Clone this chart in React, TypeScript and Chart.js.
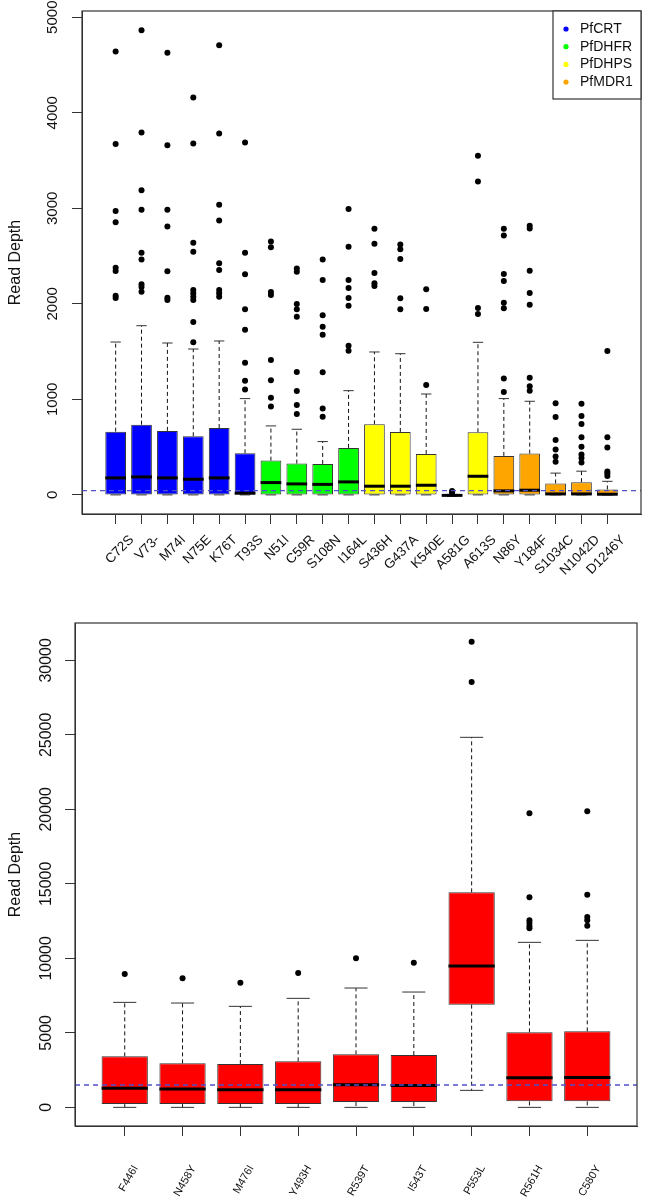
import React, { useEffect, useRef } from 'react';
import { Chart, registerables } from 'chart.js';

Chart.register(...registerables);
Chart.defaults.font.family = "'Liberation Sans', Arial, sans-serif";
Chart.defaults.color = '#111';

// ---------- Top chart data ----------
const topLabels = ['C72S', 'V73-', 'M74I', 'N75E', 'K76T', 'T93S', 'N51I', 'C59R', 'S108N', 'I164L', 'S436H', 'G437A', 'K540E', 'A581G', 'A613S', 'N86Y', 'Y184F', 'S1034C', 'N1042D', 'D1246Y'];
const topGroup = [0, 0, 0, 0, 0, 0, 1, 1, 1, 1, 2, 2, 2, 2, 2, 3, 3, 3, 3, 3];
const geneNames = ['PfCRT', 'PfDHFR', 'PfDHPS', 'PfMDR1'];
const geneColors = ['#0000ff', '#00ff00', '#ffff00', '#ffa500'];
const topQ1 = [0, 0, 0, 0, 0, 0, 5, 5, 5, 5, 0, 0, 0, -15, 0, 5, 5, 0, 0, 0];
const topMedian = [178, 188, 178, 164, 178, 18, 129, 115, 110, 136, 91, 91, 101, -5, 195, 42, 49, 10, 10, 7];
const topQ3 = [662, 735, 670, 614, 700, 436, 359, 328, 324, 492, 739, 659, 429, 5, 656, 408, 432, 120, 133, 57];
const topWhiskerLow = [0, 0, 0, 0, 0, 0, 0, 0, 0, 0, 0, 0, 0, -15, 0, 0, 0, 0, 0, 0];
const topWhiskerHigh = [1600, 1771, 1590, 1527, 1611, 1008, 722, 687, 558, 1091, 1496, 1478, 1056, 5, 1597, 1008, 980, 228, 248, 142];
const topOutliers = [
  [4640, 3672, 2971, 2853, 2378, 2343, 2085, 2060],
  [4864, 3794, 3190, 2984, 2535, 2465, 2204, 2176, 2127],
  [4627, 3661, 2984, 2810, 2340, 2064, 2040],
  [4160, 3678, 2639, 2545, 2144, 2110, 2075, 2040, 1810, 1597],
  [4707, 3783, 3037, 2873, 2424, 2354, 2144, 2110, 2075],
  [3688, 2535, 2309, 1942, 1729, 1384, 1196, 1102],
  [2653, 2591, 2123, 2092, 1412, 1200, 1018, 924],
  [2371, 2336, 1998, 1942, 1865, 1287, 1088, 941, 847],
  [2465, 2249, 1880, 1761, 1677, 1283, 903, 819],
  [2992, 2597, 2249, 2165, 2060, 1980, 1562, 1509],
  [2786, 2629, 2322, 2214, 2186],
  [2622, 2570, 2469, 2057, 1942],
  [2152, 1946, 1151],
  [40, 20],
  [3549, 3281, 1956, 1893],
  [2786, 2716, 2312, 2238, 2012, 1953, 1217, 1077],
  [2817, 2789, 2347, 2113, 1991, 1227, 1137, 1091],
  [959, 816, 575, 474, 401, 348],
  [955, 826, 743, 604, 505, 422, 387, 338],
  [1506, 604, 495, 244, 223, 199],
];
const topYTicks = [0, 1000, 2000, 3000, 4000, 5000];
const topThreshold = 45;

// ---------- Bottom chart data ----------
const botLabels = ['F446I', 'N458Y', 'M476I', 'Y493H', 'R539T', 'I543T', 'P553L', 'R561H', 'C580Y'];
const botQ1 = [221, 221, 221, 221, 358, 358, 6890, 403, 403];
const botMedian = [1275, 1230, 1186, 1186, 1521, 1476, 9485, 1991, 2013];
const botQ3 = [3423, 2953, 2908, 3087, 3557, 3512, 14430, 5034, 5101];
const botWhiskerLow = [0, 0, 0, 0, 0, 0, 1141, 0, 0];
const botWhiskerHigh = [7047, 7002, 6779, 7315, 8009, 7740, 24832, 11074, 11208];
const botOutliers = [
  [8946],
  [8658],
  [8367],
  [9016],
  [10000],
  [9709],
  [31255, 28546],
  [19732, 14094, 12550, 12371, 12170, 12013],
  [19866, 14275, 12774, 12550, 12192],
];
const botYTicks = [0, 5000, 10000, 15000, 20000, 25000, 30000];
const botThreshold = 1500;
const botColor = '#ff0000';

type BoxCfg = {
  q1: number[];
  med: number[];
  q3: number[];
  wl: number[];
  wh: number[];
  threshold: number;
  legend: boolean;
};

function boxPlugin(cfg: BoxCfg) {
  return {
    id: 'boxExtras',
    afterDatasetsDraw(chart: any) {
      const { ctx, chartArea } = chart;
      const xs = chart.scales.x;
      const ys = chart.scales.y;
      const meta = chart.getDatasetMeta(0);
      ctx.save();
      for (let i = 0; i < cfg.q1.length; i++) {
        const bar = meta.data[i];
        const cx = xs.getPixelForValue(i + 1);
        const w = bar.width;
        const yQ1 = ys.getPixelForValue(cfg.q1[i]);
        const yQ3 = ys.getPixelForValue(cfg.q3[i]);
        const yWl = ys.getPixelForValue(cfg.wl[i]);
        const yWh = ys.getPixelForValue(cfg.wh[i]);
        const yMed = ys.getPixelForValue(cfg.med[i]);
        // whiskers (dashed)
        ctx.strokeStyle = '#111';
        ctx.lineWidth = 1;
        ctx.setLineDash([4, 3]);
        ctx.beginPath();
        ctx.moveTo(cx, yQ3);
        ctx.lineTo(cx, yWh);
        if (yWl - yQ1 > 1) {
          ctx.moveTo(cx, yQ1);
          ctx.lineTo(cx, yWl);
        }
        ctx.stroke();
        ctx.setLineDash([]);
        // caps
        ctx.strokeStyle = '#333';
        ctx.beginPath();
        ctx.moveTo(cx - w / 4, yWh);
        ctx.lineTo(cx + w / 4, yWh);
        ctx.moveTo(cx - w / 4, yWl);
        ctx.lineTo(cx + w / 4, yWl);
        ctx.stroke();
        // median
        ctx.strokeStyle = '#000';
        ctx.lineWidth = 3;
        ctx.beginPath();
        ctx.moveTo(cx - w / 2, yMed);
        ctx.lineTo(cx + w / 2, yMed);
        ctx.stroke();
      }
      // threshold line
      const yt = ys.getPixelForValue(cfg.threshold);
      ctx.strokeStyle = '#5050c8';
      ctx.lineWidth = 1.3;
      ctx.setLineDash([5, 4]);
      ctx.beginPath();
      ctx.moveTo(chartArea.left, yt);
      ctx.lineTo(chartArea.right, yt);
      ctx.stroke();
      ctx.setLineDash([]);
      // frame
      ctx.strokeStyle = '#333';
      ctx.lineWidth = 1.2;
      ctx.strokeRect(chartArea.left, chartArea.top, chartArea.right - chartArea.left, chartArea.bottom - chartArea.top);
      // legend
      if (cfg.legend) {
        const lw = 88;
        const lh = 88;
        const lx = chartArea.right - lw;
        const ly = chartArea.top;
        ctx.fillStyle = '#fff';
        ctx.fillRect(lx, ly, lw, lh);
        ctx.strokeRect(lx, ly, lw, lh);
        ctx.font = "14px 'Liberation Sans', Arial, sans-serif";
        ctx.textBaseline = 'middle';
        ctx.textAlign = 'left';
        geneNames.forEach((name, k) => {
          const ry = ly + 18 + k * 17.7;
          ctx.fillStyle = geneColors[k];
          ctx.beginPath();
          ctx.arc(lx + 13, ry, 2.6, 0, Math.PI * 2);
          ctx.fill();
          ctx.fillStyle = '#111';
          ctx.fillText(name, lx + 27, ry);
        });
      }
      ctx.restore();
    },
  };
}

type PanelProps = {
  labels: string[];
  colors: string[];
  q1: number[];
  med: number[];
  q3: number[];
  wl: number[];
  wh: number[];
  outliers: number[][];
  yTicks: number[];
  yMin: number;
  yMax: number;
  threshold: number;
  legend: boolean;
  height: number;
  padding: { left: number; right: number; top: number; bottom: number };
  yWidth: number;
  xHeight: number;
  yFont: number;
  yPad: number;
  xFont: number;
  xRot: number;
  xPad: number;
  xOffset: number;
};

function BoxPanel(p: PanelProps) {
  const ref = useRef<HTMLCanvasElement | null>(null);
  useEffect(() => {
    if (!ref.current) return;
    const n = p.labels.length;
    const boxData = p.labels.map((_, i) => ({ x: i + 1, y: [p.q1[i], p.q3[i]] }));
    const outData: { x: number; y: number }[] = [];
    p.outliers.forEach((arr, i) => arr.forEach((v) => outData.push({ x: i + 1, y: v })));
    const chart = new Chart(ref.current, {
      type: 'bar',
      data: {
        datasets: [
          {
            type: 'bar',
            data: boxData as any,
            backgroundColor: p.colors,
            borderColor: '#333',
            borderWidth: 1,
            borderSkipped: false,
            categoryPercentage: 1,
            barPercentage: 0.8,
          } as any,
          {
            type: 'scatter',
            data: outData,
            backgroundColor: '#000',
            borderWidth: 0,
            pointRadius: 3,
          } as any,
        ],
      },
      options: {
        animation: false,
        responsive: false,
        events: [],
        layout: { padding: p.padding },
        plugins: { legend: { display: false }, tooltip: { enabled: false } },
        scales: {
          x: {
            type: 'linear',
            offset: false,
            min: 0.5 - 0.04 * n,
            max: n + 0.5 + 0.04 * n,
            grid: { offset: false, drawOnChartArea: false, tickLength: 10, color: '#333', tickColor: '#333' },
            border: { display: true, color: '#333' },
            afterBuildTicks: (scale: any) => {
              scale.ticks = p.labels.map((_, i) => ({ value: i + 1 }));
            },
            afterFit: (scale: any) => {
              scale.height = p.xHeight;
            },
            ticks: {
              autoSkip: false,
              minRotation: p.xRot,
              maxRotation: p.xRot,
              padding: p.xPad,
              labelOffset: p.xOffset,
              font: { size: p.xFont },
              color: '#111',
              callback: (v: any) => p.labels[Math.round(Number(v)) - 1] ?? '',
            },
          },
          y: {
            type: 'linear',
            min: p.yMin,
            max: p.yMax,
            grid: { drawOnChartArea: false, tickLength: 10, color: '#333', tickColor: '#333' },
            border: { display: true, color: '#333' },
            afterBuildTicks: (scale: any) => {
              scale.ticks = p.yTicks.map((v) => ({ value: v }));
            },
            afterFit: (scale: any) => {
              scale.width = p.yWidth;
            },
            title: {
              display: true,
              text: 'Read Depth',
              font: { size: 16 },
              color: '#111',
              padding: { top: 6, bottom: 0 },
            },
            ticks: {
              minRotation: 90,
              maxRotation: 90,
              crossAlign: 'center',
              padding: p.yPad,
              font: { size: p.yFont },
              color: '#111',
              callback: (v: any) => String(v),
            },
          },
        },
      },
      plugins: [
        boxPlugin({ q1: p.q1, med: p.med, q3: p.q3, wl: p.wl, wh: p.wh, threshold: p.threshold, legend: p.legend }),
      ],
    } as any);
    return () => chart.destroy();
  }, []);
  return <canvas ref={ref} width={645} height={p.height} style={{ display: 'block', width: 645, height: p.height }} />;
}

export default function App() {
  useEffect(() => {
    document.body.style.margin = '0';
    document.body.style.background = '#fff';
  }, []);
  const topColors = topGroup.map((g) => geneColors[g]);
  const botColors = botLabels.map(() => botColor);
  return (
    <div style={{ width: 645, height: 1197, background: '#fff' }}>
      <BoxPanel
        labels={topLabels}
        colors={topColors}
        q1={topQ1}
        med={topMedian}
        q3={topQ3}
        wl={topWhiskerLow}
        wh={topWhiskerHigh}
        outliers={topOutliers}
        yTicks={topYTicks}
        yMin={-200}
        yMax={5065}
        threshold={topThreshold}
        legend={true}
        height={600}
        padding={{ left: 0, right: 2, top: 11, bottom: 0 }}
        yWidth={82}
        xHeight={86}
        yFont={15}
        yPad={2}
        xFont={13.5}
        xRot={45}
        xPad={8}
        xOffset={16}
      />
      <BoxPanel
        labels={botLabels}
        colors={botColors}
        q1={botQ1}
        med={botMedian}
        q3={botQ3}
        wl={botWhiskerLow}
        wh={botWhiskerHigh}
        outliers={botOutliers}
        yTicks={botYTicks}
        yMin={-1250}
        yMax={32505}
        threshold={botThreshold}
        legend={false}
        height={597}
        padding={{ left: 0, right: 8, top: 23, bottom: 0 }}
        yWidth={75}
        xHeight={71}
        yFont={16}
        yPad={-4}
        xFont={11}
        xRot={60}
        xPad={27}
        xOffset={11}
      />
    </div>
  );
}
